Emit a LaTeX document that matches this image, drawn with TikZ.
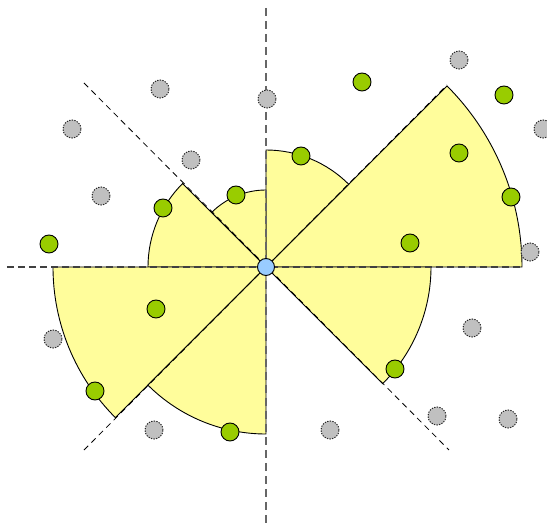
\documentclass[tikz,border=0pt]{standalone}
\usepackage{tikz}
\usetikzlibrary{positioning,calc}
\definecolor{ConeYellow}{RGB}{255,253,155}
\definecolor{PtGreen}{RGB}{153,204,0}
\definecolor{PtGray}{RGB}{192,192,192}
\definecolor{RootBlue}{RGB}{153,204,255}
\tikzset{
  cone/.style={fill=ConeYellow,draw=black,line width=0.9pt,line join=miter},
  vaxis/.style={draw=black!60,line width=1.6pt,dash pattern=on 8pt off 5pt},
  haxis/.style={draw=black!75,line width=1.2pt,dash pattern=on 7pt off 4pt},
  daxis/.style={draw=black,line width=0.8pt,dash pattern=on 6pt off 4.5pt},
}
\tikzset{hit/.style={circle,draw=black,fill=PtGreen,line width=0.9pt,inner sep=0pt,minimum size=18pt},
  miss/.style={circle,draw=black!85,fill=PtGray,dash pattern=on 1.3pt off 1.3pt,line width=1pt,inner sep=0pt,minimum size=18pt},
  root/.style={circle,draw=black,fill=RootBlue,line width=0.9pt,inner sep=0pt,minimum size=17pt}}

\begin{document}
\begin{tikzpicture}[x=1pt,y=1pt]
\useasboundingbox (-266,-260) rectangle (281,267);
\coordinate (o) at (0,0);
\coordinate (top) at (0,259);
\coordinate (bot) at (0,-262);
\coordinate (lft) at (-259,0);
\coordinate (rgt) at (257,0);
\coordinate (ul) at (-182,184);
\coordinate (lr) at (183,-183);
\coordinate (ll) at (-182,-183);
\coordinate (ur) at (181,182);
% cones around the root
\filldraw[cone] (o) -- ++(0:256) arc[start angle=0,end angle=45,radius=256] -- cycle;
\filldraw[cone] (o) -- ++(45:117) arc[start angle=45,end angle=90,radius=117] -- cycle;
\filldraw[cone] (o) -- ++(90:77) arc[start angle=90,end angle=135,radius=77] -- cycle;
\filldraw[cone] (o) -- ++(135:118) arc[start angle=135,end angle=180,radius=118] -- cycle;
\filldraw[cone] (o) -- ++(180:213) arc[start angle=180,end angle=225,radius=213] -- cycle;
\filldraw[cone] (o) -- ++(225:167) arc[start angle=225,end angle=270,radius=167] -- cycle;
\filldraw[cone] (o) -- ++(315:165) arc[start angle=315,end angle=360,radius=165] -- cycle;
% axes
\draw[daxis] (ul) -- (lr);
\draw[daxis] (ll) -- (ur);
\draw[haxis] (lft) -- (rgt);
\draw[vaxis] (top) -- (bot);
% points
\node[miss] (q1) at (-106,178) {};
\node[miss] (q2) at (-194,138) {};
\node[miss] (q3) at (-75,107) {};
\node[miss] (q4) at (-165,71) {};
\node[miss] (q5) at (1,168) {};
\node[miss] (q6) at (193,207) {};
\node[miss] (q7) at (277,138) {};
\node[miss] (q8) at (264,15) {};
\node[miss] (q9) at (206,-61) {};
\node[miss] (q10) at (-213,-72) {};
\node[miss] (q11) at (-112,-163) {};
\node[miss] (q12) at (171,-149) {};
\node[miss] (q13) at (242,-152) {};
\node[miss] (q14) at (64,-163) {};
\node[hit] (g1) at (-217,23) {};
\node[hit] (g2) at (-103,59) {};
\node[hit] (g3) at (-30,72) {};
\node[hit] (g4) at (96,185) {};
\node[hit] (g5) at (238,172) {};
\node[hit] (g6) at (35,111) {};
\node[hit] (g7) at (193,114) {};
\node[hit] (g8) at (245,70) {};
\node[hit] (g9) at (144,24) {};
\node[hit] (g10) at (-110,-42) {};
\node[hit] (g11) at (-171,-124) {};
\node[hit] (g12) at (-36,-165) {};
\node[hit] (g13) at (129,-102) {};
\node[root] (r) at (o) {};
\end{tikzpicture}
\end{document}
